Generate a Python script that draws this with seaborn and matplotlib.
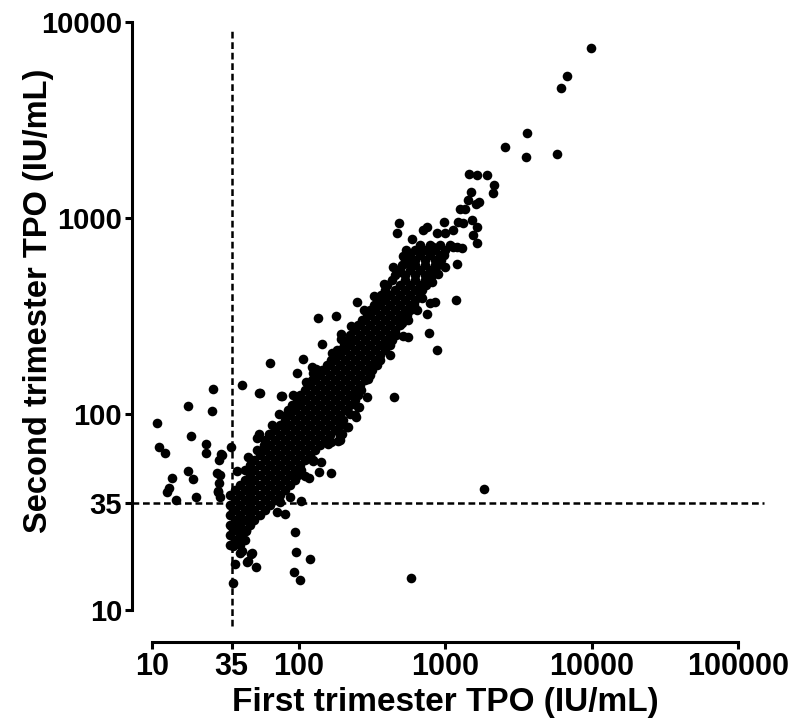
import matplotlib
matplotlib.use("Agg")
import matplotlib.pyplot as plt
from matplotlib.ticker import FixedLocator, FixedFormatter, NullLocator
import pandas as pd
import seaborn as sns

# (first trimester TPO, second trimester TPO) in IU/mL
band_lower = [
    (34, 21.5), (40, 21.5),
    (37, 22.8), (43, 22.8),
    (34, 24.1), (40, 24.1),
    (37, 25.6), (43, 25.6),
    (34, 27.2), (40, 27.2), (47, 27.2),
    (37, 28.8), (43, 28.8), (50, 28.8),
    (34, 30.5), (40, 30.5), (47, 30.5), (55, 30.5),
    (37, 32.4), (43, 32.4), (50, 32.4), (59, 32.4),
    (34, 34.3), (40, 34.3), (47, 34.3), (55, 34.3), (64, 34.3),
    (37, 36.4), (43, 36.4), (50, 36.4), (59, 36.4), (69, 36.4),
    (34, 38.6), (40, 38.6), (47, 38.6), (55, 38.6), (64, 38.6), (75, 38.6),
    (37, 41), (43, 41), (50, 41), (59, 41), (69, 41), (81, 41),
    (40, 43.4), (47, 43.4), (55, 43.4), (64, 43.4), (75, 43.4), (88, 43.4),
    (43, 46), (50, 46), (59, 46), (69, 46), (81, 46), (95, 46),
    (47, 49), (55, 49), (64, 49), (75, 49), (88, 49), (99, 49),
    (43, 52), (50, 52), (59, 52), (69, 52), (81, 52), (95, 52), (104, 52),
    (47, 55), (55, 55), (64, 55), (75, 55), (88, 55), (102, 55),
    (50, 58), (59, 58), (69, 58), (81, 58), (95, 58), (111, 58), (125, 58),
    (55, 62), (64, 62), (75, 62), (88, 62), (102, 62), (120, 62),
    (52, 65.5), (59, 65.5), (69, 65.5), (81, 65.5), (95, 65.5), (111, 65.5), (130, 65.5),
]

band_middle = [
    (58, 69.5), (64, 69.5), (75, 69.5), (88, 69.5), (102, 69.5), (120, 69.5), (140, 69.5),
    (59, 73.6), (69, 73.6), (81, 73.6), (95, 73.6), (111, 73.6), (130, 73.6), (152, 73.6),
    (64, 78), (75, 78), (88, 78), (102, 78), (120, 78), (140, 78), (164, 78),
    (69, 83), (81, 83), (95, 83), (111, 83), (130, 83), (152, 83), (178, 83),
    (75, 88), (88, 88), (102, 88), (120, 88), (140, 88), (164, 88), (192, 88),
    (81, 93), (95, 93), (111, 93), (130, 93), (152, 93), (178, 93), (200, 93),
    (82, 99), (88, 99), (102, 99), (120, 99), (140, 99), (164, 99), (192, 99),
    (85, 105), (95, 105), (111, 105), (130, 105), (152, 105), (178, 105), (208, 105),
    (90, 111), (102, 111), (120, 111), (140, 111), (164, 111), (192, 111), (225, 111),
    (98, 118), (111, 118), (130, 118), (152, 118), (178, 118), (208, 118), (243, 118),
    (102, 125), (120, 125), (140, 125), (164, 125), (192, 125), (225, 125), (255, 125),
    (111, 132), (130, 132), (152, 132), (178, 132), (208, 132), (243, 132), (268, 132),
    (120, 141), (140, 141), (164, 141), (192, 141), (225, 141), (263, 141),
    (130, 149), (152, 149), (178, 149), (208, 149), (243, 149), (284, 149),
    (140, 158), (164, 158), (192, 158), (225, 158), (263, 158), (308, 158),
    (145, 168), (152, 168), (178, 168), (208, 168), (243, 168), (284, 168), (318, 168),
    (157, 178), (164, 178), (192, 178), (225, 178), (263, 178), (308, 178), (345, 178),
    (167, 189), (178, 189), (208, 189), (243, 189), (284, 189), (333, 189), (360, 189),
    (178, 200), (192, 200), (225, 200), (263, 200), (308, 200), (360, 200),
    (192, 212), (208, 212), (243, 212), (284, 212), (333, 212), (389, 212),
]

band_upper = [
    (204, 225), (225, 225), (263, 225), (308, 225), (360, 225), (421, 225),
    (216, 239), (243, 239), (284, 239), (333, 239), (389, 239), (437, 239),
    (225, 253), (263, 253), (308, 253), (360, 253), (421, 253), (465, 253),
    (243, 268), (284, 268), (333, 268), (389, 268), (456, 268),
    (255, 285), (263, 285), (308, 285), (360, 285), (421, 285), (493, 285),
    (272, 302), (284, 302), (333, 302), (389, 302), (456, 302), (525, 302),
    (292, 320), (308, 320), (360, 320), (421, 320), (493, 320), (550, 320),
    (308, 340), (333, 340), (389, 340), (456, 340), (533, 340), (577, 340),
    (328, 360), (360, 360), (421, 360), (493, 360), (577, 360), (618, 360),
    (345, 382), (389, 382), (456, 382), (533, 382), (624, 382),
    (366, 405), (421, 405), (493, 405), (577, 405), (675, 405),
    (389, 430), (456, 430), (533, 430), (624, 430), (700, 430),
    (405, 455), (493, 455), (577, 455), (675, 455), (745, 455),
    (434, 483), (533, 483), (624, 483), (730, 483), (770, 483),
    (456, 512), (533, 512), (624, 512), (730, 512), (815, 512),
    (493, 543), (577, 543), (675, 543), (790, 543), (855, 543),
    (510, 576), (624, 576), (730, 576), (855, 576), (900, 576),
    (533, 611), (624, 611), (730, 611), (855, 611), (945, 611),
    (577, 648), (675, 648), (790, 648), (925, 648), (980, 648),
    (624, 687), (730, 687), (855, 687), (1000, 687),
    (675, 728), (790, 728), (925, 728), (1082, 728),
]

# dots sticking out of the edges of the main cloud
band_edges = [
    (45, 60), (52, 75), (66, 88), (74, 100), (92, 125), (112, 145),
    (132, 170), (168, 205), (195, 240), (228, 280), (282, 340),
    (330, 400), (385, 460), (445, 560), (520, 640), (600, 780),
    (118, 47), (160, 70), (185, 82), (225, 100), (300, 150),
    (420, 200), (520, 250), (560, 300), (640, 340), (700, 390),
    (820, 470), (900, 520), (1000, 560),
]

upper_tail = [
    (1466, 1675), (1663, 1656), (1928, 1656), (2159, 1472), (2137, 1346),
    (1496, 1352), (1442, 1236), (1714, 1211), (1629, 1178), (1266, 1107),
    (1370, 1107), (985, 957), (757, 903), (704, 869), (1232, 957),
    (1333, 940), (1523, 977), (1645, 903), (1140, 869), (877, 836),
    (1000, 836), (1556, 819), (1645, 743), (1140, 714), (1300, 700),
    (832, 714), (488, 940), (473, 836), (542, 687), (675, 714),
    (1202, 714), (1202, 582), (571, 582), (493, 528),
    (9860, 7350), (6810, 5300), (6200, 4630), (3650, 2700),
    (3570, 2056), (5780, 2120), (2570, 2300),
]

scattered = [
    (1188, 382), (791, 367), (749, 324), (855, 374), (506, 292),
    (562, 248), (780, 260), (885, 212), (421, 239), (184, 212),
    (252, 374), (180, 316), (135, 308), (449, 122), (295, 122),
    (260, 108), (247, 96), (219, 86), (195, 91), (192, 77),
    (187, 73), (342, 181), (410, 234), (195, 256), (144, 227),
    (108, 191), (97, 161), (123, 173), (125, 162), (123, 149),
    (77, 124), (64, 183), (55, 128), (166, 72), (192, 74),
    (197, 79), (213, 86), (256, 109), (243, 99), (126, 57.5),
    (142, 57), (139, 50.5), (167, 50), (111, 48), (103.5, 36),
    (95, 25), (96, 19.8), (119, 18.1), (93.5, 15.6), (103, 14.2),
    (583, 14.6), (1845, 41.3), (71, 31.8), (81, 30.8), (75, 35.7),
    (87.5, 37.9), (80, 87),
]

left_outliers = [
    (26, 134), (41, 141), (54, 128), (76, 124), (17.7, 110),
    (25.8, 103), (10.9, 90), (18.4, 77), (54, 79), (63, 79),
    (11.2, 68), (12.3, 63), (23.4, 70), (23.3, 63), (29.7, 62.5),
    (28.6, 58), (34.6, 68), (17.7, 51), (19, 46.5), (13.6, 47),
    (13.1, 41.8), (12.6, 39.8), (14.5, 36.4), (20, 37.6), (29, 48.9),
    (28.5, 44.7), (28, 40.6), (29, 37.8), (37.9, 51), (29.9, 61.6),
    (27.7, 50), (28.4, 40.2),
]

low_outliers = [
    (36, 32.4), (37.8, 28.8), (35, 26.6), (39.8, 24.6), (36.9, 22.8),
    (35.5, 21.3), (44, 25.4), (40, 19.6), (47.4, 19.3), (44.7, 17.6),
    (51, 16.6), (36.9, 17.1), (36, 13.7), (45, 17.8), (48, 19.5),
    (41, 20), (44, 25.6), (37.8, 22.8),
]

x_ticks = [10, 35, 100, 1000, 10000, 100000]
y_ticks = [10, 35, 100, 1000, 10000]
cutoff = 35

groups = [band_lower, band_middle, band_upper, band_edges, upper_tail,
          scattered, left_outliers, low_outliers]
df = pd.DataFrame([p for g in groups for p in g], columns=["first", "second"])

sns.set_style("ticks")
plt.rcParams["font.family"] = ["Liberation Sans", "DejaVu Sans"]
plt.rcParams["font.weight"] = "bold"
plt.rcParams["axes.labelweight"] = "bold"
for key in ["text.color", "axes.labelcolor", "xtick.color", "ytick.color",
            "axes.edgecolor"]:
    plt.rcParams[key] = "black"

fig = plt.figure(figsize=(7.9, 7.18), dpi=100)
ax = fig.add_axes([152 / 790, 108 / 718, 586 / 790, 588 / 718])

sns.scatterplot(data=df, x="first", y="second", ax=ax, color="black",
                s=48, linewidth=0, zorder=3)

ax.set_xscale("log")
ax.set_yscale("log")
ax.set_xlim(10, 100000)
ax.set_ylim(10, 10000)

# cut-off lines at 35 IU/mL
dash = (0, (2.7, 1.5))
ax.plot([cutoff, cutoff], [8.3, 9300], color="black", lw=1.8,
        linestyle=dash, clip_on=False, zorder=2)
ax.plot([7.3, 150000], [cutoff, cutoff], color="black", lw=1.8,
        linestyle=dash, clip_on=False, zorder=2)

ax.xaxis.set_major_locator(FixedLocator(x_ticks))
ax.xaxis.set_major_formatter(FixedFormatter([str(t) for t in x_ticks]))
ax.yaxis.set_major_locator(FixedLocator(y_ticks))
ax.yaxis.set_major_formatter(FixedFormatter([str(t) for t in y_ticks]))
ax.xaxis.set_minor_locator(NullLocator())
ax.yaxis.set_minor_locator(NullLocator())

for side in ["top", "right"]:
    ax.spines[side].set_visible(False)
ax.spines["left"].set_position(("outward", 14.5))
ax.spines["bottom"].set_position(("outward", 23))
for side in ["left", "bottom"]:
    ax.spines[side].set_linewidth(2.2)
ax.tick_params(axis="both", length=5, width=2.2, pad=2)
ax.tick_params(axis="x", labelsize=22)
ax.tick_params(axis="y", labelsize=21)

ax.set_xlabel("First trimester TPO (IU/mL)", fontsize=24, labelpad=4)
ax.set_ylabel("Second trimester TPO (IU/mL)", fontsize=23.5)
ax.yaxis.set_label_coords(-0.168, 0.525)

fig.savefig("out.png", dpi=100, facecolor="white")
